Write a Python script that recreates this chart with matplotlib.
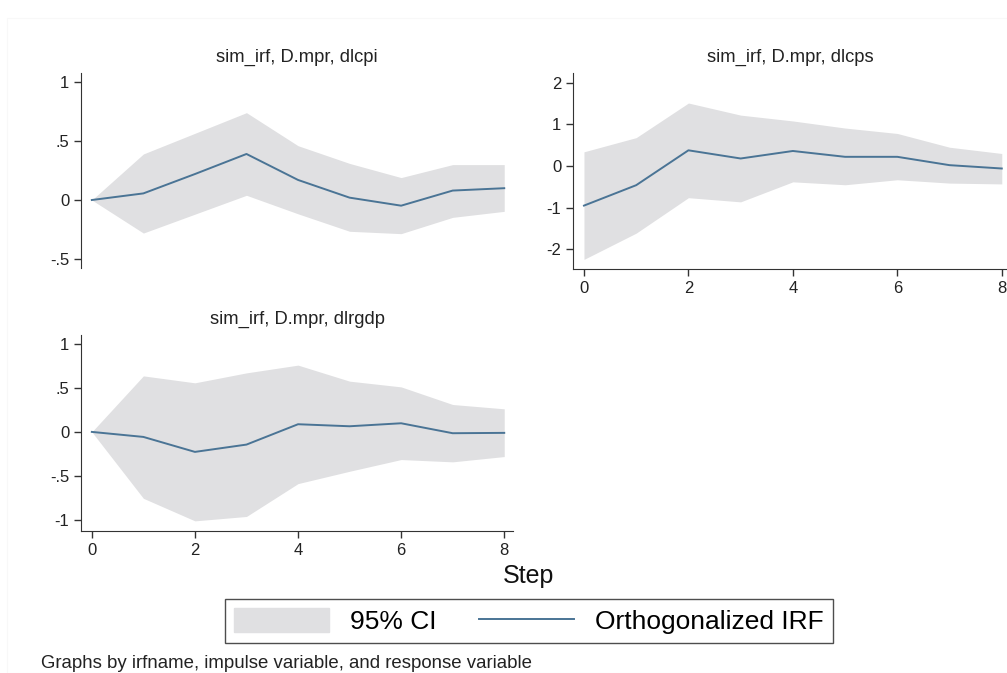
import numpy as np
import matplotlib.pyplot as plt
from matplotlib.patches import Rectangle
from matplotlib.lines import Line2D

plt.rcParams['font.family'] = ['Liberation Sans', 'DejaVu Sans']

# impulse-response data
steps = [0, 1, 2, 3, 4, 5, 6, 7, 8]

dlcpi_irf = [0, 0.056, 0.22, 0.39, 0.17, 0.02, -0.048, 0.08, 0.10]
dlcpi_hi = [0, 0.39, 0.565, 0.74, 0.46, 0.31, 0.19, 0.30, 0.30]
dlcpi_lo = [0, -0.28, -0.12, 0.04, -0.117, -0.265, -0.285, -0.147, -0.096]

dlcps_irf = [-0.95, -0.46, 0.376, 0.18, 0.36, 0.22, 0.22, 0.02, -0.06]
dlcps_hi = [0.34, 0.68, 1.51, 1.22, 1.08, 0.91, 0.78, 0.45, 0.30]
dlcps_lo = [-2.24, -1.61, -0.76, -0.86, -0.38, -0.45, -0.33, -0.41, -0.43]

dlrgdp_irf = [0, -0.057, -0.227, -0.144, 0.087, 0.064, 0.098, -0.015, -0.011]
dlrgdp_hi = [0, 0.636, 0.557, 0.67, 0.758, 0.576, 0.511, 0.311, 0.262]
dlrgdp_lo = [0, -0.754, -1.01, -0.96, -0.587, -0.447, -0.314, -0.34, -0.28]

yt_half = [-1, -0.5, 0, 0.5, 1]
yt_half_lbl = ['-1', '-.5', '0', '.5', '1']
yt_cps = [-2, -1, 0, 1, 2]
xt = [0, 2, 4, 6, 8]

W, H = 1007, 673
fill_col = '#e0e0e2'
line_col = '#4a7495'
axis_col = '#333333'

fig = plt.figure(figsize=(W / 100, H / 100), dpi=100)

# very faint outer frame like the stata graph region
fig.patches.append(Rectangle((7 / W, 0), 1, 1 - 18 / H, transform=fig.transFigure,
                             fill=False, edgecolor='#f8f8f8', linewidth=0.8))


def px_axes(left, top, right, bottom):
    return fig.add_axes([left / W, 1 - bottom / H, (right - left) / W, (bottom - top) / H])


def panel(ax, irf, lo, hi, ylim, yticks, ylabels, title, show_x=True):
    ax.fill_between(steps, lo, hi, color=fill_col, linewidth=0)
    ax.plot(steps, irf, color=line_col, linewidth=1.4)
    ax.set_ylim(*ylim)
    ax.set_yticks(yticks)
    ax.set_yticklabels(ylabels)
    for s in ['top', 'right']:
        ax.spines[s].set_visible(False)
    ax.spines['left'].set_color(axis_col)
    ax.spines['bottom'].set_color(axis_col)
    ax.tick_params(colors=axis_col, labelcolor='#222222', labelsize=12, length=5, width=1)
    if show_x:
        ax.set_xticks(xt)
    else:
        ax.spines['bottom'].set_visible(False)
        ax.set_xticks([])
    ax.set_title(title, fontsize=13.2, color='#222222', pad=8)


ax1 = px_axes(81, 73, 513, 268)
ax1.set_xlim(-0.21, 8.17)
panel(ax1, dlcpi_irf, dlcpi_lo, dlcpi_hi, (-0.576, 1.076), yt_half[1:], yt_half_lbl[1:],
      'sim_irf, D.mpr, dlcpi', show_x=False)

ax2 = px_axes(573, 73, 1007, 269)
ax2.set_xlim(-0.21, 8.1)
panel(ax2, dlcps_irf, dlcps_lo, dlcps_hi, (-2.47, 2.23), yt_cps, [str(v) for v in yt_cps],
      'sim_irf, D.mpr, dlcps')

ax3 = px_axes(81, 335, 513, 531)
ax3.set_xlim(-0.21, 8.17)
panel(ax3, dlrgdp_irf, dlrgdp_lo, dlrgdp_hi, (-1.125, 1.10), yt_half, yt_half_lbl,
      'sim_irf, D.mpr, dlrgdp')

fig.text(528 / W, 1 - 576 / H, 'Step', fontsize=18, ha='center', va='center', color='#111111')

handles = [Rectangle((0, 0), 1, 1, color=fill_col),
           Line2D([0], [0], color=line_col, linewidth=1.4)]
leg = fig.legend(handles, ['95% CI', 'Orthogonalized IRF'], loc='center',
                 bbox_to_anchor=(529 / W, 1 - 621 / H), ncol=2, fontsize=19,
                 frameon=True, fancybox=False, edgecolor='#222222',
                 handlelength=3.6, handleheight=1.0, columnspacing=1.6, handletextpad=0.8,
                 borderpad=0.35)
leg.get_frame().set_linewidth(1.0)

fig.text(41 / W, 1 - 663 / H, 'Graphs by irfname, impulse variable, and response variable',
         fontsize=13.4, ha='left', va='center', color='#222222')

fig.savefig('out.png', dpi=100)
